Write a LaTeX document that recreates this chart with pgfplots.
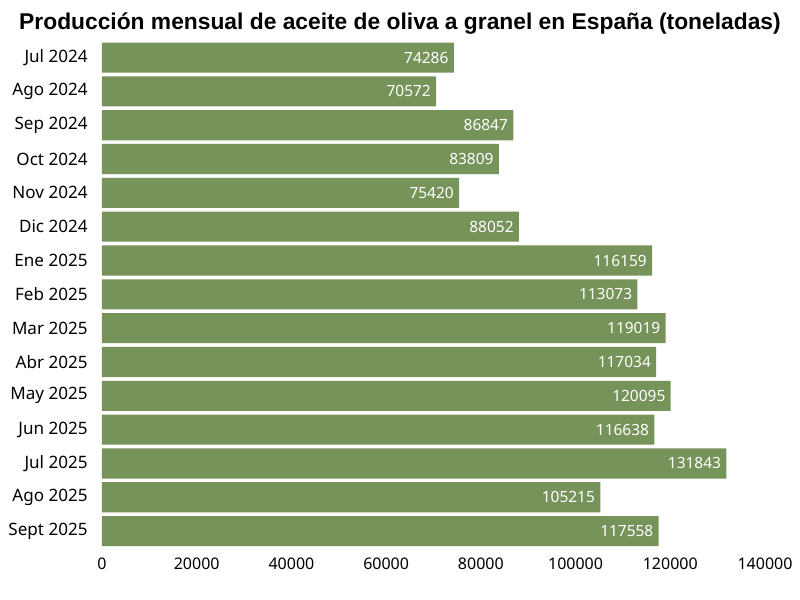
\documentclass[border=0pt]{standalone}
\usepackage{pgfplots}
\pgfplotsset{compat=1.18}
\usepackage{pgfplotstable}
\usepackage{fontspec}
\setmainfont{Noto Sans}
\newfontfamily\titlefont{Liberation Sans}
\definecolor{barg}{HTML}{76935A}
\pgfplotstableread[col sep=comma]{
idx,val,lab
0,74286,74286
1,70572,70572
2,86847,86847
3,83809,83809
4,75420,75420
5,88052,88052
6,116159,116159
7,113073,113073
8,119019,119019
9,117034,117034
10,120095,120095
11,116638,116638
12,131843,131843
13,105215,105215
14,117558,117558
}\datatab
\begin{document}
\begin{tikzpicture}
\path[use as bounding box] (-76.5pt,-39pt) rectangle (523.5pt,411pt);
\begin{axis}[
  at={(0,0)}, anchor=south west,
  scale only axis,
  width=497.25pt, height=380.5pt,
  xbar, bar width=0.89,
  xmin=0, xmax=140000,
  ymin=-0.5, ymax=14.5,
  y dir=reverse,
  ytick={0,...,14},
  yticklabels={Jul 2024,Ago 2024,Sep 2024,Oct 2024,Nov 2024,Dic 2024,Ene 2025,Feb 2025,Mar 2025,Abr 2025,May 2025,Jun 2025,Jul 2025,Ago 2025,Sept 2025},
  xtick={0,20000,40000,60000,80000,100000,120000,140000},
  xticklabels={0,20000,40000,60000,80000,100000,120000,140000},
  scaled x ticks=false,
  xticklabel style={font=\fontsize{12}{14}\selectfont, yshift=-4pt},
  yticklabel style={font=\fontsize{12.8}{14}\selectfont, xshift=-3pt},
  axis line style={draw=none},
  tick style={draw=none},
  point meta=explicit symbolic,
  nodes near coords,
  every node near coord/.append style={anchor=east, text=white, font=\fontsize{11.6}{14}\selectfont, xshift=-0.5pt},
  clip=false,
]
\addplot[fill=barg, draw=none] table[x=val, y=idx, meta=lab] {\datatab};
\end{axis}
\node[font=\titlefont\bfseries\fontsize{17.1}{20}\selectfont] at (223.5pt,393.5pt) {Producción mensual de aceite de oliva a granel en España (toneladas)};
\end{tikzpicture}
\end{document}
